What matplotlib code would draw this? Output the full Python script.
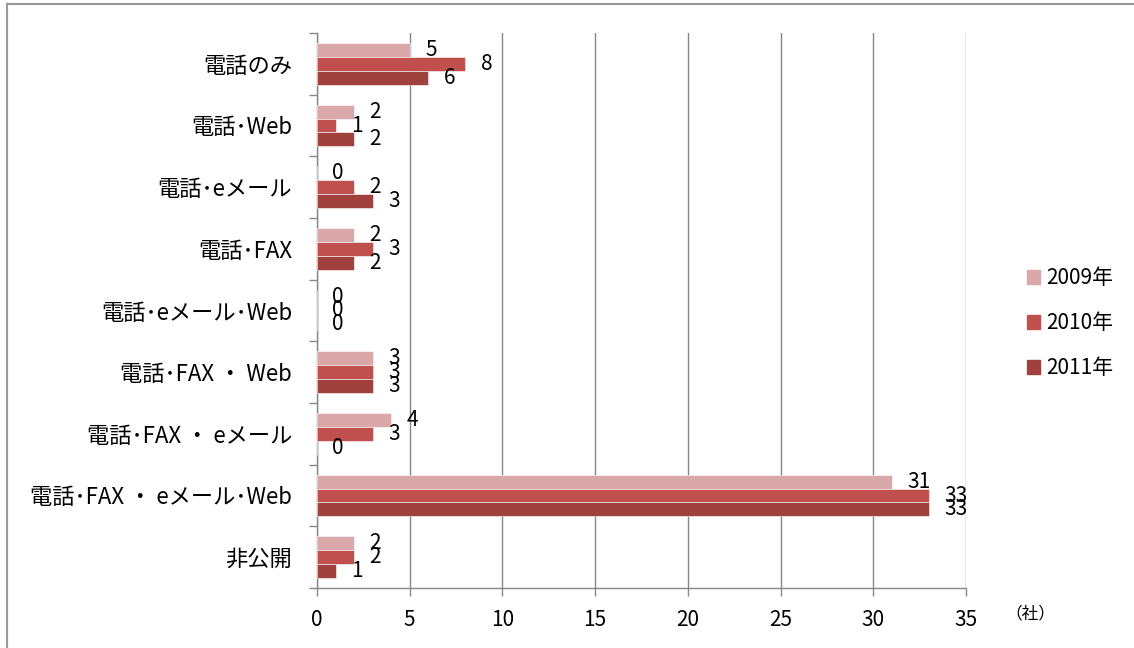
import matplotlib
matplotlib.use('Agg')
import matplotlib.pyplot as plt
from matplotlib.patches import Rectangle
from matplotlib.lines import Line2D
import numpy as np

plt.rcParams['font.family'] = ['Noto Sans CJK JP', 'DejaVu Sans']

# categories top to bottom
categories = ['電話のみ', '電話･Web', '電話･eメール', '電話･FAX', '電話･eメール･Web',
              '電話･FAX ・ Web', '電話･FAX ・ eメール', '電話･FAX ・ eメール･Web', '非公開']
years = ['2009年', '2010年', '2011年']
v2009 = [5, 2, 0, 2, 0, 3, 4, 31, 2]
v2010 = [8, 1, 2, 3, 0, 3, 3, 33, 2]
v2011 = [6, 2, 3, 2, 0, 3, 0, 33, 1]
colors = ['#DAA8A9', '#C0504D', '#A0413E']

fig = plt.figure(figsize=(11.34, 6.48), dpi=100)
ax = fig.add_axes([317/1134, 1 - 588/648, 649/1134, 555/648])

y = np.arange(len(categories))
h = 0.227
series = [v2009, v2010, v2011]
for i, (vals, c) in enumerate(zip(series, colors)):
    ypos = y + (i - 1) * h
    ax.barh(ypos, vals, height=h, color=c, edgecolor='white', linewidth=0.4, zorder=3)
    for yy, v in zip(ypos, vals):
        ax.annotate(str(v), xy=(v, yy), xytext=(11, 0), textcoords='offset points',
                    ha='left', va='center', fontsize=15, color='black', zorder=4)

ax.set_xlim(0, 35)
ax.set_ylim(len(categories) - 0.5, -0.5)
ax.set_xticks(np.arange(0, 36, 5))
ax.set_yticks(y)
ax.set_yticklabels(categories, fontsize=16)
ax.set_yticks(np.arange(-0.5, len(categories), 1), minor=True)
ax.tick_params(axis='y', which='major', length=0, pad=18)
ax.tick_params(axis='y', which='minor', length=6, color='#888888', width=1)
ax.tick_params(axis='x', length=6, color='#888888', width=1, labelsize=15, pad=9)
ax.xaxis.grid(True, color='#888888', linewidth=1, zorder=0)
ax.set_axisbelow(True)
for s in ['top', 'right']:
    ax.spines[s].set_visible(False)
for s in ['left', 'bottom']:
    ax.spines[s].set_color('#888888')
    ax.spines[s].set_linewidth(1)

handles = [Rectangle((0, 0), 1, 1, color=c) for c in colors]
fig.legend(handles, years, loc='center left', bbox_to_anchor=(1008/1134, 325/648),
           frameon=False, fontsize=15, handlelength=0.65, handleheight=0.65,
           handletextpad=0.3, labelspacing=1.1)

fig.text(1030/1134, 1 - 614/648, '（社）', fontsize=12, ha='center', va='center')

# outer border (top and left only visible)
fig.add_artist(Line2D([7/1134, 1], [1 - 4/648, 1 - 4/648], color='#999999', linewidth=1.5,
                      transform=fig.transFigure))
fig.add_artist(Line2D([7/1134, 7/1134], [0, 1 - 4/648], color='#999999', linewidth=1.5,
                      transform=fig.transFigure))

fig.savefig('out.png', dpi=100)
